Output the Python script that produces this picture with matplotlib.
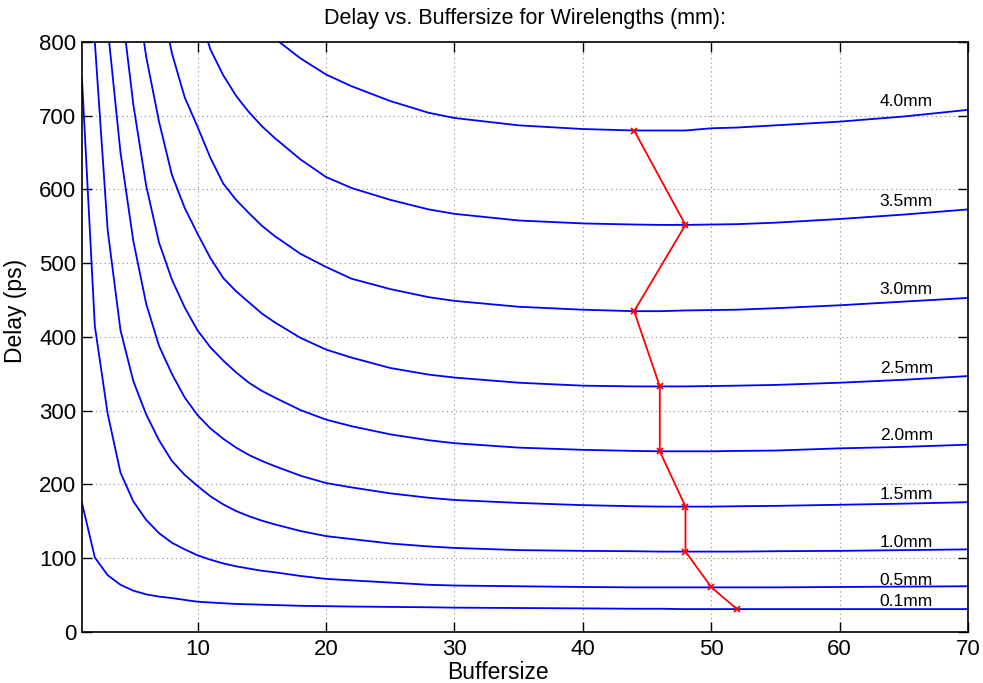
import matplotlib.pyplot as plt

plt.rcParams['font.family'] = ['Liberation Sans', 'DejaVu Sans']

# buffer sizes where the curves were sampled
buffers = [1, 2, 3, 4, 5, 6, 7, 8, 9, 10, 11, 12, 13, 14, 15, 16, 18, 20, 22, 25, 28, 30,
           35, 40, 44, 46, 48, 50, 52, 55, 60, 65, 70]

# delay (ps) for each wirelength
d_01 = [175, 101, 77, 64, 56, 51, 48, 46, 43.5, 41, 40, 39, 38, 37.5, 37, 36.5, 35.5, 35, 34.5, 34, 33.5, 33,
        32.5, 32, 31.5, 31.5, 31, 31, 31, 31, 31, 31, 31]
d_05 = [750, 415, 296, 216, 177, 152, 134, 121, 112, 104, 98, 93, 89, 86, 83, 81, 76, 72, 70, 67, 64, 63,
        62, 61, 60.5, 60.5, 60.5, 60.5, 60.5, 60.5, 61, 61.5, 62]
d_10 = [1450, 800, 545, 409, 340, 295, 260, 232, 213, 198, 184, 173, 164, 157, 151, 146, 137, 130, 126, 120, 116, 114,
        111, 110, 109.5, 109, 109, 109, 109, 109.5, 110, 111, 112]
d_15 = [2300, 1150, 820, 650, 530, 445, 388, 350, 318, 294, 276, 262, 250, 240, 232, 225, 212, 202, 196, 188, 182, 179,
        175, 172, 170.5, 170, 170, 170, 170.5, 171, 172.5, 174, 176]
d_20 = [3000, 1600, 1100, 860, 715, 605, 528, 478, 440, 409, 386, 368, 352, 338, 327, 318, 301, 288, 279, 268, 260, 256,
        250, 247, 245.5, 245, 245, 245, 245.5, 246, 249, 251, 254]
d_25 = [4000, 2100, 1450, 1100, 900, 780, 692, 620, 575, 540, 507, 480, 462, 447, 432, 420, 399, 383, 372, 358, 349, 345,
        338, 334, 333, 333, 333, 333.5, 334, 335, 338, 342, 347]
d_30 = [5000, 2700, 1900, 1400, 1150, 990, 870, 785, 725, 685, 643, 608, 586, 568, 551, 537, 513, 495, 479, 465, 454, 449,
        441, 437, 435, 435, 436, 436.5, 437, 439, 443, 448, 453]
d_35 = [7000, 3600, 2500, 1900, 1550, 1300, 1150, 1030, 920, 845, 790, 755, 727, 705, 686, 670, 641, 617, 602, 586, 573, 567,
        558, 554, 552.5, 552, 552, 552.5, 553, 555, 560, 566, 573]
d_40 = [9000, 4600, 3200, 2400, 1900, 1600, 1350, 1200, 1090, 1000, 950, 910, 878, 850, 826, 805, 778, 756, 740, 720, 704, 697,
        687, 682, 680, 680, 680, 683, 684, 687, 692, 699, 708]

curves = [d_01, d_05, d_10, d_15, d_20, d_25, d_30, d_35, d_40]
labels = ['0.1mm', '0.5mm', '1.0mm', '1.5mm', '2.0mm', '2.5mm', '3.0mm', '3.5mm', '4.0mm']
label_y = [42, 70, 122, 187, 266, 357, 464, 584, 720]

# optimal buffer size per wirelength
opt_buf = [52, 50, 48, 48, 46, 46, 44, 48, 44]
opt_delay = [31, 61, 109, 170, 245, 333, 435, 552, 680]

fig = plt.figure(figsize=(9.83, 6.83), dpi=100)
ax = fig.add_axes([0.0834, 0.0747, 0.9013, 0.8638])

for d, lab, ly in zip(curves, labels, label_y):
    ax.plot(buffers, d, color='#0000ff', lw=1.3)
    ax.text(65.2, ly, lab, ha='center', va='center', fontsize=12.5)

ax.plot(opt_buf, opt_delay, color='#ff0000', lw=1.3, marker='x', ms=4, mew=1.3)

ax.set_xlim(1, 70)
ax.set_ylim(0, 800)
ax.set_xticks([10, 20, 30, 40, 50, 60, 70])
ax.set_yticks(range(0, 801, 100))
ax.tick_params(direction='in', top=True, right=True, labelsize=16, length=7, width=1)
ax.tick_params(axis='y', pad=4)
ax.tick_params(axis='x', pad=5)
ax.grid(True, linestyle=(0, (1, 3)), color='#888888', lw=0.8)
for s in ax.spines.values():
    s.set_linewidth(1.2)

ax.set_title('Delay vs. Buffersize for Wirelengths (mm):', fontsize=15.5, pad=13)
ax.set_xlabel('Buffersize', fontsize=16.5)
ax.set_ylabel('Delay (ps)', fontsize=16.5)
ax.xaxis.set_label_coords(0.4695, -0.05)
ax.yaxis.set_label_coords(-0.062, 0.544)

fig.savefig('out.png', dpi=100)
